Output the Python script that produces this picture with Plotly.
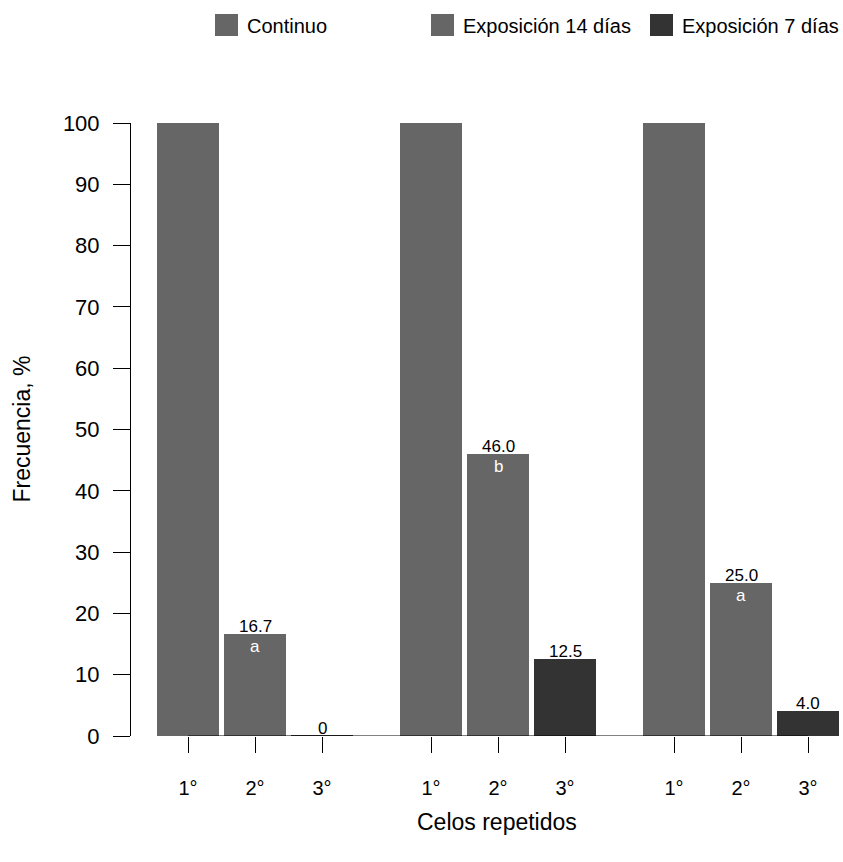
import plotly.graph_objects as go

# ---- data ----
groups = ["Continuo", "Exposición 14 días", "Exposición 7 días"]
celo_labels = ["1°", "2°", "3°"]
vals_continuo = [100, 16.7, 0]
vals_exp14 = [100, 46.0, 12.5]
vals_exp7 = [100, 25.0, 4.0]
value_labels_continuo = ["", "16.7", "0"]
value_labels_exp14 = ["", "46.0", "12.5"]
value_labels_exp7 = ["", "25.0", "4.0"]
letters_continuo = ["", "a", ""]
letters_exp14 = ["", "b", ""]
letters_exp7 = ["", "a", ""]
y_ticks = [0, 10, 20, 30, 40, 50, 60, 70, 80, 90, 100]
legend_labels = ["Continuo", "Exposición 14 días", "Exposición 7 días"]
legend_colors = ["#666666", "#666666", "#333333"]

all_vals = [vals_continuo, vals_exp14, vals_exp7]
all_vlabels = [value_labels_continuo, value_labels_exp14, value_labels_exp7]
all_letters = [letters_continuo, letters_exp14, letters_exp7]
bar_colors = ["#666666", "#666666", "#333333"]

# ---- layout geometry ----
W, H = 843, 862
ML, MR, MT, MB = 131, 0, 123, 126
PW = W - ML - MR
PH = H - MT - MB
pitch_px = 67.0
group_step = 243.0 / pitch_px
first_center_px = 188.0
x_min = (ML - first_center_px) / pitch_px
x_max = (W - MR - first_center_px) / pitch_px
bar_w = 62.0 / pitch_px

FONT = "Liberation Sans, Arial, sans-serif"

fig = go.Figure()
positions_all = []
annotations = []
shapes = []
for g, name in enumerate(groups):
    pos = [g * group_step + i for i in range(len(celo_labels))]
    positions_all += pos
    fig.add_trace(go.Bar(
        x=pos, y=all_vals[g], name=name, width=bar_w,
        marker=dict(color=bar_colors, line=dict(width=0)),
        showlegend=False, hoverinfo="y",
    ))
    for i, v in enumerate(all_vals[g]):
        if v == 0:
            shapes.append(dict(type="line", xref="x", yref="y",
                               x0=pos[i] - bar_w / 2, x1=pos[i] + bar_w / 2,
                               y0=v, y1=v, line=dict(color=bar_colors[i], width=2)))
        if all_vlabels[g][i]:
            annotations.append(dict(x=pos[i], y=v, xref="x", yref="y",
                                    text=all_vlabels[g][i], showarrow=False,
                                    yanchor="bottom", yshift=-4,
                                    font=dict(family=FONT, size=17, color="black")))
        if all_letters[g][i]:
            annotations.append(dict(x=pos[i], y=v, xref="x", yref="y",
                                    text=all_letters[g][i], showarrow=False,
                                    yanchor="top", yshift=-1,
                                    font=dict(family=FONT, size=17, color="white")))

# x-axis line from first to last tick
shapes.append(dict(type="line", xref="x", yref="y",
                   x0=positions_all[0], x1=positions_all[-1], y0=0, y1=0,
                   line=dict(color="black", width=1)))

# legend (custom, top)
leg_sq_px = [215, 431, 650]
for k, lab in enumerate(legend_labels):
    x0 = (leg_sq_px[k] - ML) / PW
    x1 = (leg_sq_px[k] + 23 - ML) / PW
    y0 = (H - MB - 36) / PH
    y1 = (H - MB - 14) / PH
    shapes.append(dict(type="rect", xref="paper", yref="paper",
                       x0=x0, x1=x1, y0=y0, y1=y1,
                       fillcolor=legend_colors[k], line=dict(width=0)))
    annotations.append(dict(x=(leg_sq_px[k] + 30 - ML) / PW, y=(H - MB - 26) / PH,
                            xref="paper", yref="paper", text=lab, showarrow=False,
                            xanchor="left", yanchor="middle",
                            font=dict(family=FONT, size=20, color="black")))

# axis titles
annotations.append(dict(x=0, y=0.5, xref="paper", yref="paper",
                        text="Frecuencia, %", showarrow=False, textangle=-90,
                        xanchor="center", yanchor="middle", xshift=-(ML - 21),
                        font=dict(family=FONT, size=23, color="black")))
annotations.append(dict(x=(497 - ML) / PW, y=0, xref="paper", yref="paper",
                        text="Celos repetidos", showarrow=False,
                        xanchor="center", yanchor="middle", yshift=-(822 - (H - MB)),
                        font=dict(family=FONT, size=23, color="black")))

fig.update_layout(
    width=W, height=H,
    margin=dict(l=ML, r=MR, t=MT, b=MB, pad=0),
    plot_bgcolor="white", paper_bgcolor="white",
    bargap=0, barmode="overlay",
    shapes=shapes, annotations=annotations,
    showlegend=False,
    xaxis=dict(range=[x_min, x_max], tickvals=positions_all,
               ticktext=celo_labels * len(groups),
               ticks="outside", ticklen=16, tickcolor="black", tickwidth=1,
               showline=False, showgrid=False, zeroline=False,
               ticklabelstandoff=18,
               tickfont=dict(family=FONT, size=20, color="black")),
    yaxis=dict(range=[0, 100], tickvals=y_ticks,
               ticks="outside", ticklen=17, tickcolor="black", tickwidth=1,
               showline=True, linecolor="black", linewidth=1,
               showgrid=False, zeroline=False,
               ticklabelstandoff=9,
               tickfont=dict(family=FONT, size=22, color="black")),
)

fig.write_html("out.html")
